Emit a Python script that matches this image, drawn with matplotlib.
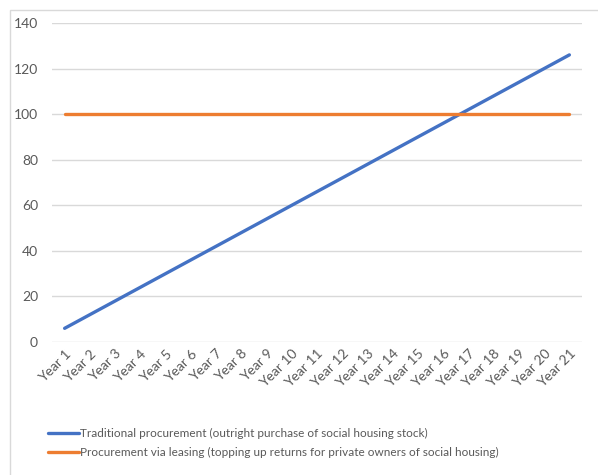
import matplotlib
matplotlib.use("Agg")
import matplotlib.pyplot as plt
from matplotlib.patches import Rectangle

categories = [f"Year {i}" for i in range(1, 22)]
traditional = [6, 12, 18, 24, 30, 36, 42, 48, 54, 60, 66, 72, 78, 84, 90, 96, 102, 108, 114, 120, 126]
leasing = [100] * 21
series_names = [
    "Traditional procurement (outright purchase of social housing stock)",
    "Procurement via leasing (topping up returns for private owners of social housing)",
]
yticks = [0, 20, 40, 60, 80, 100, 120, 140]

plt.rcParams['font.family'] = ['Lato', 'DejaVu Sans']

W, H = 598, 475
fig = plt.figure(figsize=(W / 100, H / 100), dpi=100)
fig.patch.set_facecolor("white")

# chart area border (cropped at right/bottom)
fig.patches.append(Rectangle((10 / W, -0.05), 1.1, 1 - 10 / H + 0.05,
                             transform=fig.transFigure, fill=False,
                             edgecolor="#d9d9d9", linewidth=1.0))

ax = fig.add_axes([52 / W, 1 - 342 / H, (582 - 52) / W, (342 - 23) / H])
x = list(range(len(categories)))
ax.plot(x, traditional, color="#4472C4", linewidth=2.4, solid_capstyle="round", label=series_names[0], zorder=3)
ax.plot(x, leasing, color="#ED7D31", linewidth=2.4, solid_capstyle="round", label=series_names[1], zorder=3)

ax.set_xlim(-0.5, len(categories) - 0.5)
ax.set_ylim(0, 140)
ax.set_yticks(yticks)
ax.set_xticks(x)
ax.set_xticklabels(categories, rotation=45, ha="right", rotation_mode="anchor")
ax.tick_params(axis="both", length=0, colors="#595959", labelsize=10)
ax.tick_params(axis="y", pad=10)
ax.tick_params(axis="x", pad=4)
ax.grid(axis="y", color="#d9d9d9", linewidth=1.0)
ax.set_axisbelow(True)
for s in ax.spines.values():
    s.set_visible(False)

leg = fig.legend(loc="upper left", bbox_to_anchor=(48 / W, 1 - 428 / H), frameon=False,
                 fontsize=8.5, handlelength=2.6, handletextpad=0.15, labelspacing=0.7,
                 borderaxespad=0, borderpad=0)
for t in leg.get_texts():
    t.set_color("#595959")

fig.savefig("out.png", dpi=100)
